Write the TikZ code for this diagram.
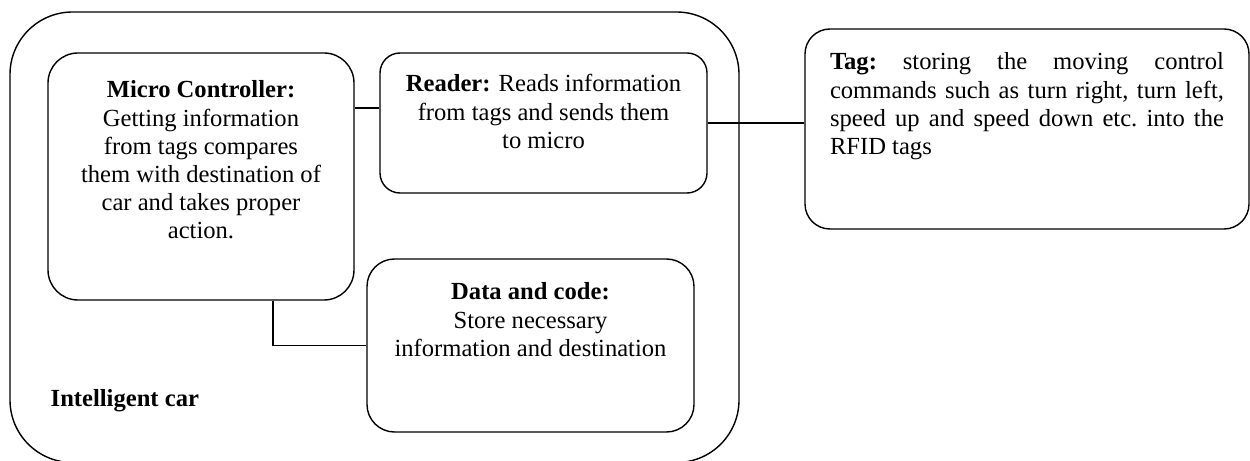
\documentclass[tikz,border=0pt]{standalone}
\usepackage{fontspec}
\setmainfont{Liberation Serif}
\usetikzlibrary{calc}

% text of a box: inner width, height, first baseline, contents
\newcommand{\boxtext}[4]{\parbox[c][#2][t]{#1}{\centering\rule{0pt}{#3}#4}}

\begin{document}
\begin{tikzpicture}[font=\fontsize{14}{16}\selectfont, line width=0.8pt,
    blk/.style={draw, rounded corners=#1, inner xsep=0.5cm, inner ysep=0pt},
    blk/.default=0.5cm]
      \useasboundingbox (0,0) rectangle (25,-9.22);
      % the car
      \draw [rounded corners=1.25cm] (0.2,-0.24) rectangle (14.78,-9.25);
      \node [anchor=base west, inner sep=0pt, font=\fontsize{14}{16}\selectfont\bfseries] (car) at (1.0,-8.14) {Intelligent car};
      \node [blk=0.6cm] (micro) at (4.02,-3.53)
        {\boxtext{5.12cm}{4.94cm}{0.9cm}{\textbf{Micro Controller:}\\ Getting information\\ from tags compares\\ them with destination of\\ car and takes proper\\ action.}};
      \node [blk=0.4cm] (reader) at (10.87,-2.46)
        {\boxtext{5.54cm}{2.8cm}{0.78cm}{\textbf{Reader:} Reads information\\ from tags and sends them\\ to micro}};
      \node [blk=0.55cm] (data) at (10.61,-6.91)
        {\boxtext{5.54cm}{3.46cm}{0.82cm}{\textbf{Data and code:}\\ Store necessary\\ information and destination}};
      % the tags
      \node [blk] (tag) at (20.54,-2.58)
        {\parbox[c][4cm][t]{7.88cm}{\frenchspacing\rule{0pt}{0.82cm}\textbf{Tag:} storing the moving control\linebreak
          commands such as turn right, turn left,\linebreak
          speed up and speed down etc.\ into the\linebreak
          RFID tags}};
      \draw ([yshift=3mm]reader.west) -- ([yshift=3mm]reader.west -| micro.east);
      \draw (reader.east) -- (reader.east -| tag.west);
      \draw ([xshift=1.44cm]micro.south) |- (data.west);
    \end{tikzpicture}
\end{document}
